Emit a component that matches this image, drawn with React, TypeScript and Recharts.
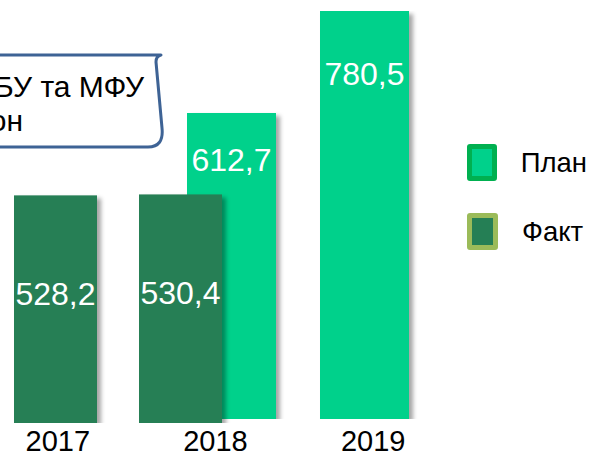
import { BarChart, Bar, XAxis, YAxis, Legend, LabelList } from "recharts";

const years = ["2017", "2018", "2019"];
const planValues: (number | null)[] = [null, 612.7, 780.5];
const factValues: (number | null)[] = [528.2, 530.4, null];

const data = years.map((year, i) => ({
  year,
  plan: planValues[i],
  fact: factValues[i],
}));

const PLAN = "#00D18B";
const FACT = "#257F55";

const legendBoxes: Record<string, { fill: string; border: string }> = {
  plan: { fill: PLAN, border: "#00B050" },
  fact: { fill: FACT, border: "#9BBB59" },
};

const fmt = (v: number) => v.toFixed(1).replace(".", ",");

// label sits at a fraction of the bar height, measured from its top
function barLabel(ratio: number) {
  return (props: any) => {
    const { value } = props;
    if (value == null) return null;
    const x = Number(props.x);
    const y = Number(props.y);
    const w = Number(props.width);
    const h = Number(props.height);
    return (
      <text
        x={x + w / 2}
        y={y + h * ratio}
        dy="0.36em"
        textAnchor="middle"
        fill="#fff"
        fontSize={32}
      >
        {fmt(Number(value))}
      </text>
    );
  };
}

const ShadowBar = (props: any) => {
  if (!props.height) return null;
  return (
    <rect
      x={props.x}
      y={props.y}
      width={props.width}
      height={props.height}
      fill={props.fill}
      filter="url(#barShadow)"
    />
  );
};

const renderLegend = ({ payload }: any) => (
  <div style={{ display: "flex", flexDirection: "column", gap: 32 }}>
    {(payload || []).map((entry: any) => {
      const c = legendBoxes[entry.dataKey] || legendBoxes.plan;
      return (
        <div
          key={entry.dataKey}
          style={{ display: "flex", alignItems: "center", height: 37 }}
        >
          <span
            style={{
              width: 31,
              height: 37,
              boxSizing: "border-box",
              border: `5.5px solid ${c.border}`,
              background: c.fill,
              borderRadius: 3,
              marginRight: 24,
            }}
          />
          <span style={{ fontSize: 27.5, color: "#000" }}>{entry.value}</span>
        </div>
      );
    })}
  </div>
);

export default function App() {
  return (
    <div
      style={{
        position: "absolute",
        left: 0,
        top: 0,
        width: 596,
        height: 453,
        overflow: "hidden",
        background: "#fff",
        fontFamily: '"Liberation Sans", Arial, sans-serif',
      }}
    >
      <div style={{ position: "absolute", left: -30, top: 0 }}>
        <BarChart
          width={626}
          height={453}
          data={data}
          margin={{ top: 11, right: 144, bottom: 0, left: 9 }}
        >
          <defs>
            <filter id="barShadow" x="-20%" y="-10%" width="150%" height="130%">
              <feDropShadow
                dx="4"
                dy="3"
                stdDeviation="2"
                floodColor="#000"
                floodOpacity="0.35"
              />
            </filter>
          </defs>

          <XAxis
            xAxisId="plan"
            dataKey="year"
            hide
            height={0}
            padding={{ left: 53, right: 21 }}
          />
          <XAxis
            xAxisId="fact"
            dataKey="year"
            hide
            height={0}
            padding={{ left: 14, right: 84 }}
          />
          <XAxis
            xAxisId="lab"
            dataKey="year"
            height={30}
            tickLine={false}
            axisLine={false}
            tickSize={0}
            tickMargin={7}
            interval={0}
            tick={{ fontSize: 29, fill: "#000" }}
          />

          <YAxis
            yAxisId="yplan"
            hide
            domain={[109.3, 780.5]}
            allowDataOverflow
            padding={{ top: 0, bottom: 4 }}
          />
          <YAxis yAxisId="yfact" hide domain={[0, 956]} allowDataOverflow />

          <Legend
            layout="vertical"
            align="center"
            verticalAlign="middle"
            wrapperStyle={{ left: 497, top: 144, width: 120 }}
            content={renderLegend}
          />

          <Bar
            dataKey="plan"
            name="План"
            xAxisId="plan"
            yAxisId="yplan"
            fill={PLAN}
            barSize={89}
            shape={ShadowBar}
            isAnimationActive={false}
          >
            <LabelList dataKey="plan" content={barLabel(0.152)} />
          </Bar>
          <Bar
            dataKey="fact"
            name="Факт"
            xAxisId="fact"
            yAxisId="yfact"
            fill={FACT}
            barSize={83}
            shape={ShadowBar}
            isAnimationActive={false}
          >
            <LabelList dataKey="fact" content={barLabel(0.43)} />
          </Bar>
        </BarChart>
      </div>

      <svg
        width={596}
        height={453}
        style={{ position: "absolute", left: 0, top: 0, pointerEvents: "none" }}
      >
        <path
          d="M -10 55 H 161 Q 156 56 156 62 L 162 128 Q 164 147 148 147 H -10 Z"
          fill="#fff"
          stroke="#3E6395"
          strokeWidth={3}
          strokeLinejoin="round"
        />
        <text x={144} y={97} textAnchor="end" fontSize={30} fill="#000">
          БУ та МФУ
        </text>
        <text x={23} y={131} textAnchor="end" fontSize={30} fill="#000">
          он
        </text>
      </svg>
    </div>
  );
}
